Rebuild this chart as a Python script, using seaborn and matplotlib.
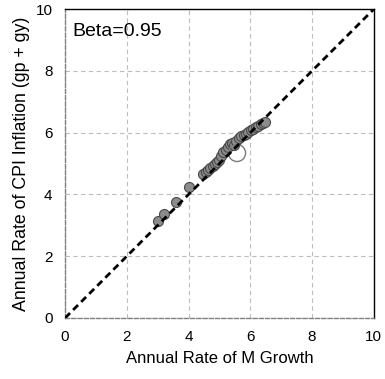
import matplotlib
matplotlib.use("Agg")
import matplotlib.pyplot as plt
import seaborn as sns
import pandas as pd

# Annual money growth vs. CPI inflation (percent)
m_growth = [3.00, 3.21, 3.59, 4.02, 4.48, 4.55, 4.62, 4.70, 4.78, 4.85, 4.92,
            5.00, 5.06, 5.12, 5.20, 5.28, 5.35, 5.40, 5.47, 5.55, 5.62, 5.70,
            5.78, 5.86, 5.94, 6.02, 6.10, 6.18, 6.26, 6.34, 6.42, 6.48]
cpi_inflation = [3.13, 3.36, 3.74, 4.25, 4.65, 4.72, 4.80, 4.86, 4.92, 5.00, 5.05,
                 5.12, 5.25, 5.38, 5.45, 5.54, 5.62, 5.68, 5.60, 5.72, 5.82, 5.88,
                 5.92, 5.97, 6.03, 6.08, 6.13, 6.18, 6.22, 6.27, 6.31, 6.35]
mean_point = ([5.57], [5.34])
ticks = [0, 2, 4, 6, 8, 10]
beta_label = "Beta=0.95"

df = pd.DataFrame({"m": m_growth, "cpi": cpi_inflation})

sns.set_style("white")
plt.rcParams["font.family"] = ["Liberation Sans", "DejaVu Sans"]
plt.rcParams["text.color"] = "black"
plt.rcParams["axes.labelcolor"] = "black"

fig = plt.figure(figsize=(3.85, 3.79), dpi=100)
ax = fig.add_axes([0.169, 0.161, 0.802, 0.815])

ax.grid(True, color="#bdbdbd", linestyle=(0, (4, 3)), linewidth=0.8)
ax.set_axisbelow(True)

sns.scatterplot(data=df, x="m", y="cpi", ax=ax, s=52, color="#8c8c8c",
                edgecolor="#4a4a4a", linewidth=0.8, zorder=3, legend=False)
ax.scatter(mean_point[0], mean_point[1], s=150, facecolor="none",
           edgecolor="#7a7a7a", linewidth=1.0, zorder=4)

ax.plot([0, 10], [0, 10], color="black", linestyle=(0, (2.5, 1.6)),
        linewidth=2.0, zorder=5)

ax.set_xlim(0, 10)
ax.set_ylim(0, 10)
ax.set_xticks(ticks)
ax.set_yticks(ticks)
ax.tick_params(labelsize=11, length=3, width=0.8, color="#909090",
               labelcolor="black", direction="out", pad=6)
for side in ("top", "right"):
    ax.spines[side].set_color("black")
    ax.spines[side].set_linewidth(1.0)
for side in ("left", "bottom"):
    ax.spines[side].set_color("#808080")
    ax.spines[side].set_linewidth(1.0)
    ax.spines[side].set_linestyle((0, (3, 1.5)))

ax.set_xlabel("Annual Rate of M Growth", fontsize=12, labelpad=5)
ax.set_ylabel("Annual Rate of CPI Inflation (gp + gy)", fontsize=12.8,
              labelpad=4)
ax.text(0.025, 0.955, beta_label, transform=ax.transAxes, fontsize=14,
        ha="left", va="top")

fig.savefig("out.png", dpi=100)
